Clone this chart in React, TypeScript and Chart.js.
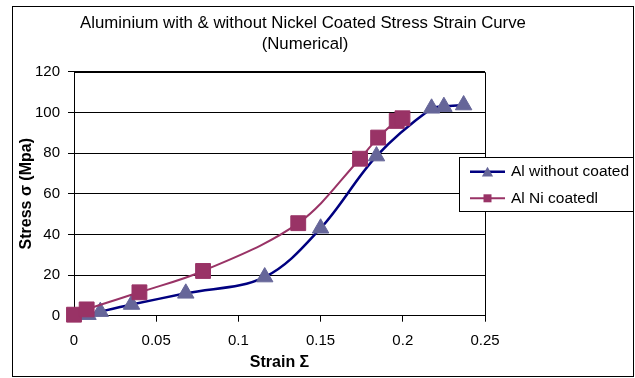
import React, { useEffect, useRef } from 'react';
import { Chart, registerables } from 'chart.js';

Chart.register(...registerables);

const FONT = '"Liberation Sans", Arial, sans-serif';

const titleLines = ['Aluminium with & without Nickel Coated Stress Strain Curve', '(Numerical)'];
const xAxisTitle = 'Strain Σ';
const yAxisTitle = 'Stress σ (Mpa)';

const xTickLabels = ['0', '0.05', '0.1', '0.15', '0.2', '0.25'];
const yTickLabels = ['0', '20', '40', '60', '80', '100', '120'];

const seriesNames = ['Al without coated', 'Al Ni coatedl'];

const strainWithout = [0.0085, 0.016, 0.035, 0.068, 0.116, 0.15, 0.184, 0.2175, 0.225, 0.237];
const stressWithout = [0.5, 2, 5.5, 11, 19, 43, 78.5, 102, 102.8, 103.6];

const strainCoated = [0, 0.0077, 0.0398, 0.0785, 0.1364, 0.174, 0.185, 0.1963, 0.1998];
const stressCoated = [0.5, 3.1, 11.5, 22, 45.5, 77.2, 87.6, 95.8, 97.1];

const toPoints = (xs: number[], ys: number[]) => xs.map((x, i) => ({ x, y: ys[i] }));

export default function App() {
  const ref = useRef<HTMLCanvasElement>(null);

  useEffect(() => {
    if (!ref.current) return;

    const framePlugin = {
      id: 'framePlugin',
      beforeDraw(chart: any) {
        const ctx = chart.ctx;
        ctx.save();
        ctx.fillStyle = '#ffffff';
        ctx.fillRect(0, 0, chart.width, chart.height);
        ctx.restore();
      },
      beforeDatasetsDraw(chart: any) {
        const { ctx, chartArea } = chart;
        ctx.save();
        ctx.strokeStyle = '#000000';
        ctx.lineWidth = 1;
        const l = Math.round(chartArea.left) + 0.5;
        const t = Math.round(chartArea.top) + 0.5;
        const r = Math.round(chartArea.right) + 0.5;
        const b = Math.round(chartArea.bottom) + 0.5;
        ctx.beginPath();
        ctx.moveTo(l, t);
        ctx.lineTo(r, t);
        ctx.lineTo(r, b);
        ctx.stroke();
        ctx.restore();
      },
      afterDraw(chart: any) {
        const ctx = chart.ctx;
        ctx.save();
        // outer border
        ctx.strokeStyle = '#000000';
        ctx.lineWidth = 1;
        ctx.strokeRect(12.5, 6.5, 621, 370);
        // title
        ctx.fillStyle = '#000000';
        ctx.font = `16.8px ${FONT}`;
        ctx.textAlign = 'center';
        ctx.textBaseline = 'middle';
        ctx.fillText(titleLines[0], 303, 23);
        ctx.fillText(titleLines[1], 305, 44.5);
        // legend
        const lx = 459.5, ly = 157.5, lw = 174, lh = 54;
        ctx.fillStyle = '#ffffff';
        ctx.fillRect(lx, ly, lw, lh);
        ctx.strokeRect(lx, ly, lw, lh);
        const rows = [171.7, 198.3];
        chart.data.datasets.forEach((ds: any, i: number) => {
          const y = rows[i];
          ctx.strokeStyle = ds.borderColor;
          ctx.lineWidth = ds.borderWidth;
          ctx.beginPath();
          ctx.moveTo(470, y);
          ctx.lineTo(505, y);
          ctx.stroke();
          ctx.fillStyle = ds.pointBackgroundColor;
          ctx.strokeStyle = ds.pointBorderColor;
          ctx.lineWidth = 1;
          ctx.beginPath();
          if (ds.pointStyle === 'triangle') {
            const rr = 6.5;
            const cy = y + 1.5;
            ctx.moveTo(487.5, cy - rr);
            ctx.lineTo(487.5 + rr * 0.866, cy + rr / 2);
            ctx.lineTo(487.5 - rr * 0.866, cy + rr / 2);
            ctx.closePath();
          } else {
            const s = 4;
            ctx.rect(487.5 - s, y - s, 2 * s, 2 * s);
          }
          ctx.fill();
          ctx.fillStyle = '#000000';
          ctx.font = `15.5px ${FONT}`;
          ctx.textAlign = 'left';
          ctx.textBaseline = 'middle';
          ctx.fillText(ds.label, 511, y);
        });
        ctx.restore();
      },
    };

    const chart = new Chart(ref.current, {
      type: 'line',
      data: {
        datasets: [
          {
            label: seriesNames[0],
            data: toPoints(strainWithout, stressWithout),
            borderColor: '#000080',
            borderWidth: 2.5,
            pointStyle: 'triangle',
            pointRadius: 9.5,
            pointHoverRadius: 9.5,
            pointBackgroundColor: '#666699',
            pointBorderColor: '#666699',
            pointBorderWidth: 1,
            tension: 0.35,
            clip: false,
            order: 1,
          },
          {
            label: seriesNames[1],
            data: toPoints(strainCoated, stressCoated),
            borderColor: '#993366',
            borderWidth: 2,
            pointStyle: 'rect',
            pointRadius: 10.5,
            pointHoverRadius: 10.5,
            pointBackgroundColor: '#993366',
            pointBorderColor: '#993366',
            pointBorderWidth: 1,
            tension: 0.35,
            clip: false,
            order: 0,
          },
        ] as any,
      },
      options: {
        responsive: false,
        animation: false,
        layout: { padding: { left: 14, right: 150, top: 71.7, bottom: 0 } },
        plugins: {
          legend: { display: false },
          title: { display: false },
          tooltip: { enabled: false },
        },
        scales: {
          x: {
            type: 'linear',
            min: 0,
            max: 0.25,
            afterFit(scale: any) {
              scale.height = 62.3;
            },
            afterBuildTicks(scale: any) {
              scale.ticks = xTickLabels.map((_, i) => ({ value: i * 0.05 }));
            },
            ticks: {
              color: '#000000',
              font: { family: FONT, size: 15 },
              padding: 10,
              maxRotation: 0,
              callback: (_v: any, i: number) => xTickLabels[i],
            },
            grid: {
              drawOnChartArea: false,
              drawTicks: true,
              tickLength: 6,
              color: '#000000',
            },
            border: { color: '#000000', width: 1 },
            title: {
              display: true,
              text: xAxisTitle,
              color: '#000000',
              font: { family: FONT, size: 16, weight: 'bold' },
              padding: { top: 0, bottom: 6 },
            },
          },
          y: {
            type: 'linear',
            min: 0,
            max: 120,
            afterFit(scale: any) {
              scale.width = 60;
            },
            afterBuildTicks(scale: any) {
              scale.ticks = yTickLabels.map((_, i) => ({ value: i * 20 }));
            },
            ticks: {
              color: '#000000',
              font: { family: FONT, size: 15 },
              padding: 8,
              callback: (_v: any, i: number) => yTickLabels[i],
            },
            grid: {
              color: '#000000',
              lineWidth: 1,
              drawTicks: true,
              tickLength: 6,
            },
            border: { color: '#000000', width: 1 },
            title: {
              display: true,
              text: yAxisTitle,
              color: '#000000',
              font: { family: FONT, size: 16, weight: 'bold' },
              padding: { top: 3.4, bottom: 0 },
            },
          },
        },
      } as any,
      plugins: [framePlugin],
    });

    return () => chart.destroy();
  }, []);

  return (
    <div style={{ position: 'absolute', left: 0, top: 0, width: 635, height: 378 }}>
      <canvas ref={ref} width={635} height={378} style={{ width: 635, height: 378, display: 'block' }} />
    </div>
  );
}
